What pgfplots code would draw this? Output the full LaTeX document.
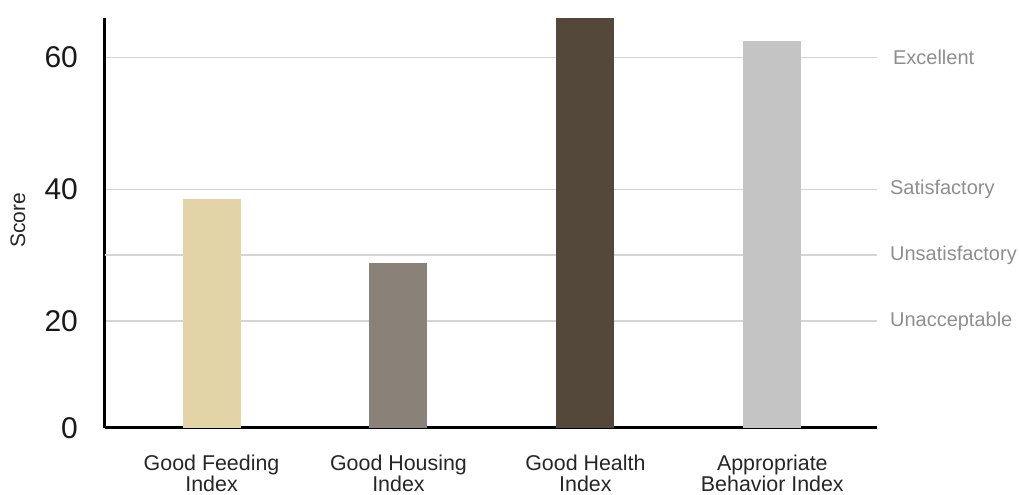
\documentclass[border=0pt]{standalone}
\usepackage{pgfplots}
\pgfplotsset{compat=1.18}
\usepackage{fontspec}
\setmainfont{Liberation Sans}
\definecolor{feedbeige}{HTML}{E2D4A6}
\definecolor{housegray}{HTML}{8A8179}
\definecolor{healthbrown}{HTML}{54483A}
\definecolor{behavegray}{HTML}{C4C4C4}
\definecolor{gridgray}{HTML}{D4D4D4}
\definecolor{labelgray}{HTML}{8E8E8E}

\begin{document}
\begin{tikzpicture}
  \begin{axis}[
      scale only axis,
      width=386pt, height=205pt,
      xmin=-0.57, xmax=3.56,
      ymin=3.8, ymax=66,
      axis x line=bottom, axis y line=left,
      axis line style={-, line width=1.5pt, black},
      xtick={0,1,2,3},
      xticklabels={Good Feeding\\Index, Good Housing\\Index, Good Health\\Index, Appropriate\\Behavior Index},
      xticklabel style={align=center, font=\fontsize{10.7}{10.5}\selectfont, text=black!85, yshift=-10pt},
      ytick={3.8,20,40,60},
      yticklabels={0,20,40,60},
      yticklabel style={font=\fontsize{15}{16}\selectfont, xshift=-10pt, text=black!90},
      /pgf/number format/assume math mode=true,
      extra y ticks={30},
      extra y tick labels={},
      extra y tick style={grid=major, tick style={draw=none}},
      ymajorgrids,
      major grid style={gridgray, line width=0.8pt},
      major tick length=0pt,
      tick style={draw=none},
      bar width=29pt,
      clip=false,
    ]
    \addplot[ybar, fill=feedbeige, draw=none] coordinates {(0,38.6)};
    \addplot[ybar, fill=housegray, draw=none] coordinates {(1,28.8)};
    \addplot[ybar, fill=healthbrown, draw=none] coordinates {(2,66)};
    \addplot[ybar, fill=behavegray, draw=none] coordinates {(3,62.5)};
    \node[rotate=90, font=\fontsize{10.5}{11}\selectfont, text=black!85] at ([xshift=-43.5pt]rel axis cs:0,0.507) {Score};
    \begin{scope}[every node/.style={anchor=west, text=labelgray, font=\fontsize{10}{11}\selectfont}]
      \node at (axis cs:3.56,60) [xshift=4.5pt] {Excellent};
      \node at (axis cs:3.56,40) [xshift=3pt] {Satisfactory};
      \node at (axis cs:3.56,30) [xshift=3pt] {Unsatisfactory};
      \node at (axis cs:3.56,20) [xshift=3pt] {Unacceptable};
    \end{scope}
  \end{axis}
  \pgfresetboundingbox
  \path[use as bounding box] ([shift={(-52.5pt,-33.5pt)}]current axis.south west)
    rectangle ([shift={(71pt,9pt)}]current axis.north east);
\end{tikzpicture}
\end{document}
